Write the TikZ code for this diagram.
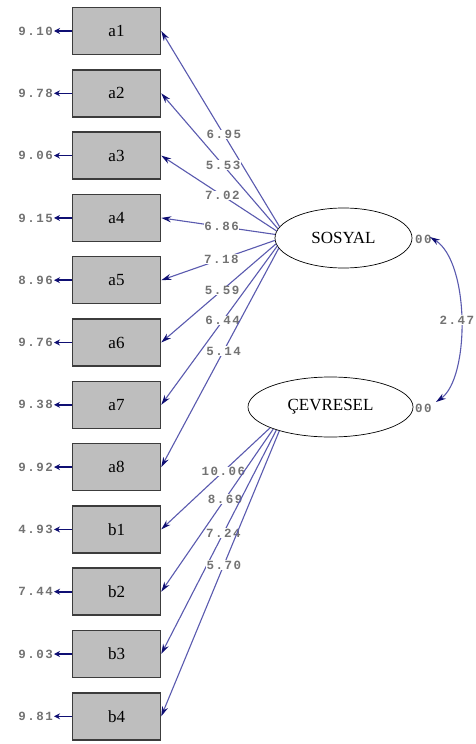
\documentclass[tikz,border=0pt]{standalone}
\usepackage{fontspec}
\setmainfont{Liberation Serif}
\newfontfamily\monofont[LetterSpace=12]{Liberation Mono Bold}
\usetikzlibrary{arrows.meta,shapes.geometric}

\definecolor{boxfill}{RGB}{190,190,190}
\definecolor{boxedge}{RGB}{60,60,60}
\definecolor{linecol}{RGB}{90,90,175}
\definecolor{tipcol}{RGB}{15,15,115}
\definecolor{numgray}{RGB}{115,115,115}

\tikzset{
  obs/.style={draw=boxedge, fill=boxfill, line width=1.5pt, minimum width=88pt,
    minimum height=47pt, inner sep=0pt, font=\fontsize{17}{17}\selectfont},
  lat/.style={ellipse, draw=black, line width=0.7pt, inner sep=0pt,
    minimum height=60pt, font=\fontsize{17}{17}\selectfont},
  num/.style={font=\monofont\fontsize{12.5}{12.5}\selectfont, text=numgray, inner sep=1pt},
  lbl/.style={num, fill=white, inner sep=0.5pt},
  tip/.style={-{Stealth[length=10pt,width=6pt,color=tipcol]}},
  load/.style={draw=linecol, line width=1.1pt, tip},
  err/.style={draw=tipcol, line width=1.6pt, -{Stealth[length=6pt,width=6pt,color=tipcol]}},
}

\begin{document}
\begin{tikzpicture}[x=1pt, y=-1pt]
\useasboundingbox[fill=white] (0,0) rectangle (475,744);

% observed indicators
\foreach \n [count=\i from 0] in {a1,a2,a3,a4,a5,a6,a7,a8,b1,b2,b3,b4}
  \node[obs] (\n) at (116.5, 31+62.3*\i) {\n};

% error variances
\foreach \n/\v [count=\i from 0] in {a1/9.10,a2/9.78,a3/9.06,a4/9.15,a5/8.96,a6/9.76,
    a7/9.38,a8/9.92,b1/4.93,b2/7.44,b3/9.03,b4/9.81} {
  \node[num, anchor=east] (e\n) at (54, 31+62.3*\i) {\v};
  \draw[err] (\n.west) -- (e\n.east);
}

% latent variables
\node[lat, minimum width=137pt] (sos) at (343.5,238) {SOSYAL};
\node[lat, minimum width=165pt] (cev) at (330.5,407) {ÇEVRESEL};

\node[num, anchor=west] (vsos) at (414,239) {00};
\node[num, anchor=west] (vcev) at (414,408) {00};

% loadings of SOSYAL
\draw[load] (sos.170) -- node[lbl, pos=0.47] {6.95} (a1.east);
\draw[load] (sos.172) -- node[lbl, pos=0.47] {5.53} (a2.east);
\draw[load] (sos.174) -- node[lbl, pos=0.47] {7.02} (a3.east);
\draw[load] (sos.177) -- node[lbl, pos=0.47] {6.86} (a4.east);
\draw[load] (sos.182) -- node[lbl, pos=0.47] {7.18} (a5.east);
\draw[load] (sos.185) -- node[lbl, pos=0.47] {5.59} (a6.east);
\draw[load] (sos.187) -- node[lbl, pos=0.47] {6.44} (a7.east);
\draw[load] (sos.189) -- node[lbl, pos=0.47] {5.14} (a8.east);

% loadings of ÇEVRESEL
\draw[load] (cev.199) -- node[lbl, pos=0.43] {10.06} (b1.east);
\draw[load] (cev.201) -- node[lbl, pos=0.43] {8.69} (b2.east);
\draw[load] (cev.203) -- node[lbl, pos=0.46] {7.24} (b3.east);
\draw[load] (cev.205) -- node[lbl, pos=0.47] {5.70} (b4.east);

% covariance between the latent variables
\coordinate (c1) at (430,237);
\coordinate (c2) at (436,402);
\draw[draw=linecol, line width=1.1pt,
  {Stealth[length=10pt,width=6pt,color=tipcol]}-{Stealth[length=10pt,width=6pt,color=tipcol]}]
  (c1) .. controls (470,262) and (470,378) .. node[lbl, pos=0.5, xshift=-4pt] {2.47} (c2);
\end{tikzpicture}
\end{document}
